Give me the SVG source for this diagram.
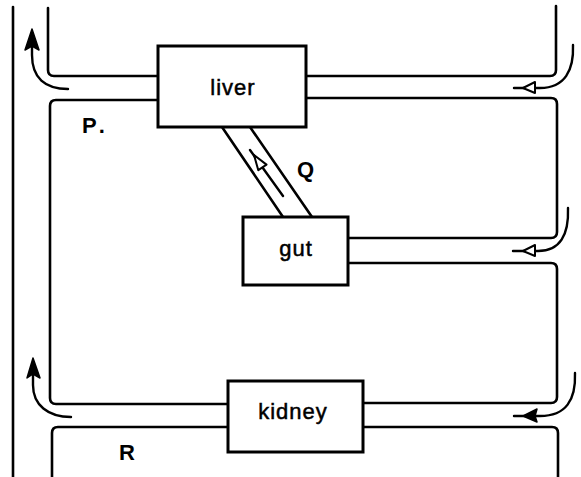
<svg xmlns="http://www.w3.org/2000/svg" width="581" height="477" viewBox="0 0 581 477">
<style>
.v{fill:none;stroke:#000;stroke-width:2.6;stroke-linecap:round;stroke-linejoin:round}
.a{fill:none;stroke:#000;stroke-width:2.4;stroke-linecap:round}
.box{fill:#fff;stroke:#000;stroke-width:3}
.t{font-family:"Liberation Sans",Arial,sans-serif;font-size:22px;fill:#000;stroke:#000;stroke-width:0.5;text-anchor:middle;letter-spacing:1px}
.l{font-family:"Liberation Sans",Arial,sans-serif;font-size:22px;font-weight:bold;fill:#000}
.hf{fill:#000;stroke:#000;stroke-width:1.5;stroke-linejoin:round}
.ho{fill:#fff;stroke:#000;stroke-width:2;stroke-linejoin:round}
</style>
<rect width="581" height="477" fill="#fff"/>
<g id="connectors">
<path class="v" d="M13,7 L13,477"/>
<path class="v" d="M48,8 L48,70 Q48,76 54,76 L158,76"/>
<path class="v" d="M158,100 L56,100 Q50,100 50,106 L50,398 Q50,404 56,404 L228,404"/>
<path class="v" d="M228,427 L58,427 Q52,427 52,433 L52,477"/>
<path class="v" d="M306,76 L550,76 Q556,76 556,70 L556,6"/>
<path class="v" d="M306,98 L551,98 Q557,98 557,104 L557,232 Q557,238 551,238 L348,238"/>
<path class="v" d="M348,263 L551,263 Q557,263 557,269 L557,397 Q557,403 551,403 L363,403"/>
<path class="v" d="M363,427 L552,427 Q558,427 558,433 L558,477"/>
<path class="v" d="M222,127 L283,217"/>
<path class="v" d="M250,127 L312,217"/>
<path class="a" d="M68,89 C45,89 32,78 32,55 L32,40"/>
<polygon class="hf" points="32,29 25,50 32,46 39,50"/>
<path class="a" d="M71,417 C48,417 33,405 33,385 L33,370"/>
<polygon class="hf" points="33,358 27,378 33,374 40,378"/>
<path class="a" d="M573,45 C574,70 565,88 540,88 L514,88"/>
<polygon class="ho" points="523,88 535,82 535,93"/>
<path class="a" d="M568,208 C569,235 560,251 538,251 L513,251"/>
<polygon class="ho" points="523,251 535,245 535,256"/>
<path class="a" d="M575,373 C576,400 566,416 540,416 L514,416"/>
<polygon class="hf" points="523,416 537,409 535,416 537,422"/>
<path class="a" d="M283,196 L250,150"/>
<polygon class="ho" points="254,155 266.5,164.6 258.3,170.2"/>
</g>
<g id="liver">
<rect class="box" x="158" y="46" width="148" height="81"/>
<text class="t" x="233" y="95">liver</text>
</g>
<g id="gut">
<rect class="box" x="243" y="217" width="105" height="68"/>
<text class="t" x="296" y="256">gut</text>
</g>
<g id="kidney">
<rect class="box" x="228" y="381" width="135" height="71"/>
<text class="t" x="293" y="419">kidney</text>
</g>
<g id="labels">
<text class="l" x="82" y="133">P<tspan dx="5">.</tspan></text>
<text class="l" x="297" y="177">Q</text>
<text class="l" x="119" y="460">R</text>
</g>
</svg>
